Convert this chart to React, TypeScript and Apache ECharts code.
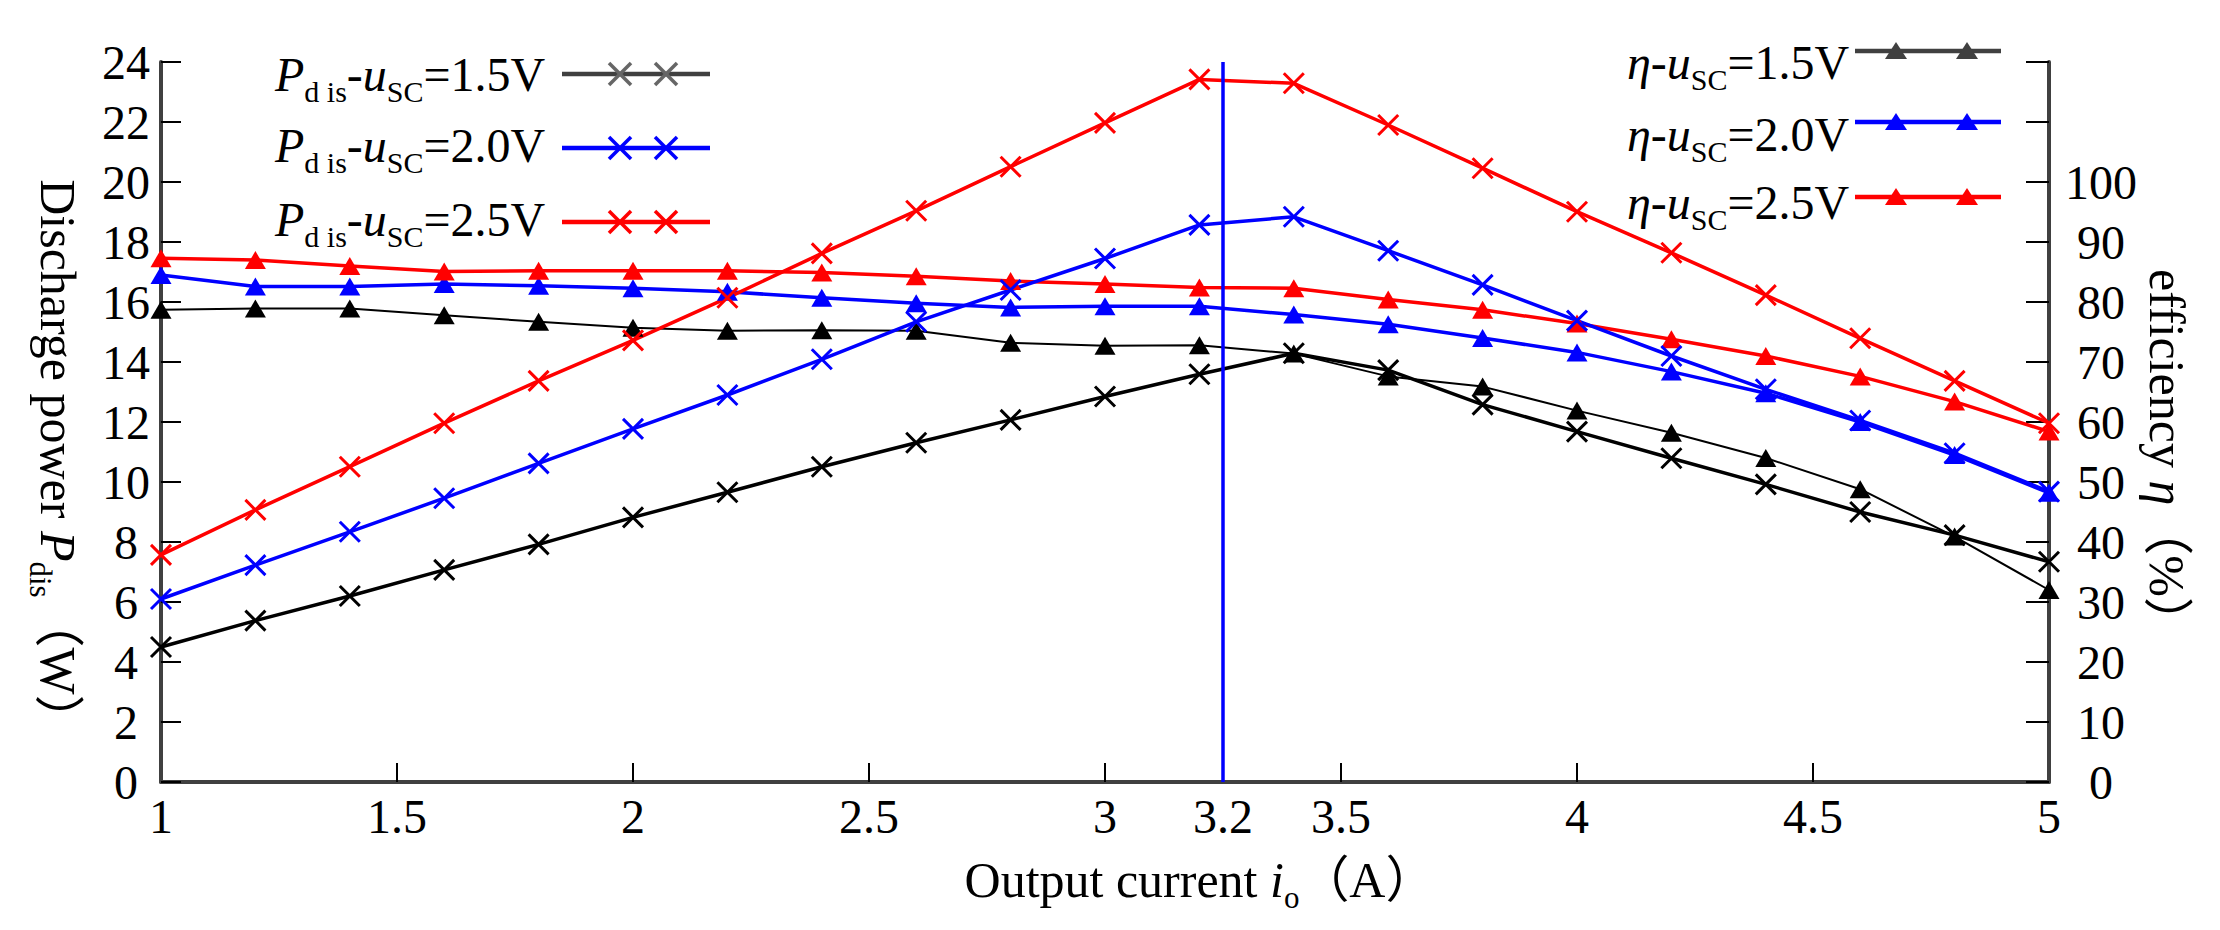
import React, { useEffect, useRef } from 'react';
import * as echarts from 'echarts';

// ---------- data ----------
const X_VALUES = [1, 1.2, 1.4, 1.6, 1.8, 2, 2.2, 2.4, 2.6, 2.8, 3, 3.2, 3.4, 3.6, 3.8, 4, 4.2, 4.4, 4.6, 4.8, 5];

const P_15 = [4.5, 5.38, 6.2, 7.07, 7.92, 8.82, 9.66, 10.51, 11.31, 12.07, 12.85, 13.59, 14.29, 13.73, 12.58, 11.68, 10.79, 9.92, 9.0, 8.23, 7.34];
const P_20 = [6.1, 7.23, 8.34, 9.46, 10.62, 11.77, 12.9, 14.09, 15.34, 16.4, 17.45, 18.57, 18.84, 17.71, 16.57, 15.38, 14.2, 13.09, 12.05, 10.96, 9.68];
const P_25 = [7.57, 9.07, 10.51, 11.96, 13.37, 14.72, 16.14, 17.62, 19.04, 20.51, 21.97, 23.42, 23.29, 21.9, 20.46, 19.01, 17.64, 16.23, 14.79, 13.37, 11.96];

const ETA_15 = [78.7, 78.9, 78.9, 77.8, 76.7, 75.7, 75.2, 75.3, 75.2, 73.2, 72.7, 72.8, 71.4, 67.6, 65.9, 61.9, 58.2, 54.0, 48.8, 40.9, 32.0];
const ETA_20 = [84.5, 82.6, 82.6, 83.0, 82.7, 82.3, 81.7, 80.7, 79.8, 79.1, 79.3, 79.3, 77.9, 76.3, 74.0, 71.6, 68.4, 64.8, 60.0, 54.5, 48.2];
const ETA_25 = [87.3, 87.0, 86.0, 85.1, 85.2, 85.2, 85.2, 84.9, 84.3, 83.5, 83.0, 82.4, 82.3, 80.4, 78.7, 76.4, 73.8, 71.0, 67.6, 63.4, 58.4];

const X_TICK_VALUES = [1.5, 2, 2.5, 3, 3.5, 4, 4.5];
const X_LABEL_VALUES = [1, 1.5, 2, 2.5, 3, 3.25, 3.5, 4, 4.5, 5];
const X_LABEL_TEXTS = ['1', '1.5', '2', '2.5', '3', '3.2', '3.5', '4', '4.5', '5'];
const MARK_X = 3.25;

const LEFT_RANGE = [0, 24];
const LEFT_STEP = 2;
const RIGHT_RANGE = [0, 120];
const RIGHT_STEP = 10;
const RIGHT_LABEL_VALUES = [0, 10, 20, 30, 40, 50, 60, 70, 80, 90, 100];

const LEGEND_VOLTS = ['1.5V', '2.0V', '2.5V'];

// ---------- styling ----------
const FONT = '"Liberation Serif", "Noto Sans CJK SC", serif';
const BLACK = '#000000';
const BLUE = '#0000ff';
const RED = '#ff0000';
const AXIS_GRAY = '#404040';

function makeRich(size: number, sub: number) {
  const lh = size + 8;
  const pad = lh - sub - 2 + Math.round(size * 0.04);
  return {
    n: { fontFamily: FONT, fontSize: size, color: '#000', lineHeight: lh, verticalAlign: 'top' },
    i: { fontFamily: FONT, fontSize: size, fontStyle: 'italic', color: '#000', lineHeight: lh, verticalAlign: 'top' },
    s: { fontFamily: FONT, fontSize: sub, color: '#000', lineHeight: sub, padding: [pad, 0, 0, 0], verticalAlign: 'top' },
  };
}

const richLegend = makeRich(48, 30);
const richTitle = makeRich(50, 31);

const CROSS = 'path://M0,0L10,10M10,0L0,10';

function pair(ys: number[]) {
  return X_VALUES.map((x, i) => [x, ys[i]]);
}

function crossMark(cx: number, cy: number, color: string) {
  const h = 11;
  return [
    { type: 'line', shape: { x1: cx - h, y1: cy - h, x2: cx + h, y2: cy + h }, style: { stroke: color, lineWidth: 3.5 } },
    { type: 'line', shape: { x1: cx - h, y1: cy + h, x2: cx + h, y2: cy - h }, style: { stroke: color, lineWidth: 3.5 } },
  ];
}

function triMark(cx: number, cy: number, color: string) {
  return {
    type: 'polygon',
    shape: { points: [[cx, cy - 9], [cx - 11, cy + 8], [cx + 11, cy + 8]] },
    style: { fill: color },
  };
}

function buildGraphic() {
  const els: any[] = [];
  const pColors = [{ line: AXIS_GRAY, mark: '#666666' }, { line: BLUE, mark: BLUE }, { line: RED, mark: RED }];
  const eColors = [{ line: AXIS_GRAY, mark: AXIS_GRAY }, { line: BLUE, mark: BLUE }, { line: RED, mark: RED }];
  const pRows = [74, 148, 222];
  const pText = [78, 149.5, 223.5];
  const eRows = [51, 122, 197];
  const eText = [66.5, 138, 206.5];

  LEGEND_VOLTS.forEach((v, k) => {
    els.push({
      type: 'text', x: 275, y: pText[k],
      style: { text: `{i|P}{s|d is}{n|-}{i|u}{s|SC}{n|=${v}}`, rich: richLegend, align: 'left', verticalAlign: 'middle' },
    });
    els.push({ type: 'line', shape: { x1: 562, y1: pRows[k], x2: 710, y2: pRows[k] }, style: { stroke: pColors[k].line, lineWidth: 4.5 } });
    els.push(...crossMark(620, pRows[k], pColors[k].mark));
    els.push(...crossMark(666, pRows[k], pColors[k].mark));

    els.push({
      type: 'text', x: 1627, y: eText[k],
      style: { text: `{i|η}{n|-}{i|u}{s|SC}{n|=${v}}`, rich: richLegend, align: 'left', verticalAlign: 'middle' },
    });
    els.push({ type: 'line', shape: { x1: 1855, y1: eRows[k], x2: 2001, y2: eRows[k] }, style: { stroke: eColors[k].line, lineWidth: 4.5 } });
    els.push(triMark(1896, eRows[k], eColors[k].mark));
    els.push(triMark(1967, eRows[k], eColors[k].mark));
  });

  // axis titles
  els.push({
    type: 'text', x: 1200, y: 884,
    style: { text: '{n|Output current }{i|i}{s|o}{n|（A）}', rich: richTitle, align: 'center', verticalAlign: 'middle' },
  });
  els.push({
    type: 'text', x: 54, y: 462, rotation: -Math.PI / 2,
    style: { text: '{n|Discharge power }{i|P}{s|dis}{n|（W）}', rich: richTitle, align: 'center', verticalAlign: 'middle' },
  });
  els.push({
    type: 'text', x: 2163, y: 458, rotation: -Math.PI / 2,
    style: { text: '{n|efficiency }{i|η}{n|（%）}', rich: richTitle, align: 'center', verticalAlign: 'middle' },
  });
  return els;
}

function crossSeries(name: string, ys: number[], color: string, width: number, extra: any = {}) {
  return {
    name, type: 'line', yAxisIndex: 0, data: pair(ys),
    symbol: CROSS, symbolSize: 20,
    lineStyle: { color, width },
    itemStyle: { color, borderColor: color, borderWidth: 3 },
    emphasis: { disabled: true },
    ...extra,
  };
}

function triSeries(name: string, ys: number[], color: string, width: number) {
  return {
    name, type: 'line', yAxisIndex: 1, data: pair(ys),
    symbol: 'triangle', symbolSize: [21, 18],
    lineStyle: { color, width },
    itemStyle: { color },
    emphasis: { disabled: true },
  };
}

export default function App() {
  const ref = useRef<HTMLDivElement>(null);
  useEffect(() => {
    if (!ref.current) return;
    const chart = echarts.init(ref.current, null, { renderer: 'svg' });
    const labelStyle = { fontFamily: FONT, fontSize: 48, color: '#000' };
    chart.setOption({
      animation: false,
      backgroundColor: '#ffffff',
      grid: { left: 161, right: 171, top: 62, bottom: 148, containLabel: false },
      xAxis: {
        type: 'value', min: 1, max: 5, interval: 0.5,
        axisLine: { show: true, onZero: false, lineStyle: { color: AXIS_GRAY, width: 4 } },
        axisTick: { show: true, inside: true, length: 19, customValues: X_TICK_VALUES, lineStyle: { color: '#000', width: 2 } },
        axisLabel: {
          ...labelStyle, margin: 10, customValues: X_LABEL_VALUES,
          formatter: (v: number) => {
            const idx = X_LABEL_VALUES.findIndex((x) => Math.abs(x - v) < 1e-6);
            return idx >= 0 ? X_LABEL_TEXTS[idx] : '';
          },
        },
        splitLine: { show: false },
      },
      yAxis: [
        {
          type: 'value', position: 'left', min: LEFT_RANGE[0], max: LEFT_RANGE[1], interval: LEFT_STEP,
          axisLine: { show: true, onZero: false, lineStyle: { color: AXIS_GRAY, width: 4 } },
          axisTick: { show: true, inside: true, length: 20, lineStyle: { color: '#000', width: 2 } },
          axisLabel: { ...labelStyle, align: 'center', margin: 35 },
          splitLine: { show: false },
        },
        {
          type: 'value', position: 'right', min: RIGHT_RANGE[0], max: RIGHT_RANGE[1], interval: RIGHT_STEP,
          axisLine: { show: true, onZero: false, lineStyle: { color: AXIS_GRAY, width: 4 } },
          axisTick: { show: true, inside: true, length: 23, lineStyle: { color: '#000', width: 2 } },
          axisLabel: { ...labelStyle, align: 'center', margin: 52, customValues: RIGHT_LABEL_VALUES },
          splitLine: { show: false },
        },
      ],
      series: [
        triSeries('η-uSC=1.5V', ETA_15, BLACK, 2),
        triSeries('η-uSC=2.0V', ETA_20, BLUE, 3.5),
        triSeries('η-uSC=2.5V', ETA_25, RED, 3.5),
        crossSeries('Pdis-uSC=1.5V', P_15, BLACK, 3.5),
        crossSeries('Pdis-uSC=2.0V', P_20, BLUE, 3.5),
        crossSeries('Pdis-uSC=2.5V', P_25, RED, 3.5, {
          markLine: {
            silent: true, symbol: ['none', 'none'], label: { show: false },
            lineStyle: { color: BLUE, width: 3.5, type: 'solid' },
            emphasis: { disabled: true },
            data: [{ xAxis: MARK_X }],
          },
        }),
      ],
      graphic: { elements: buildGraphic() },
    });
    return () => chart.dispose();
  }, []);
  return <div ref={ref} style={{ position: 'absolute', left: 0, top: 0, width: 2220, height: 930 }} />;
}
